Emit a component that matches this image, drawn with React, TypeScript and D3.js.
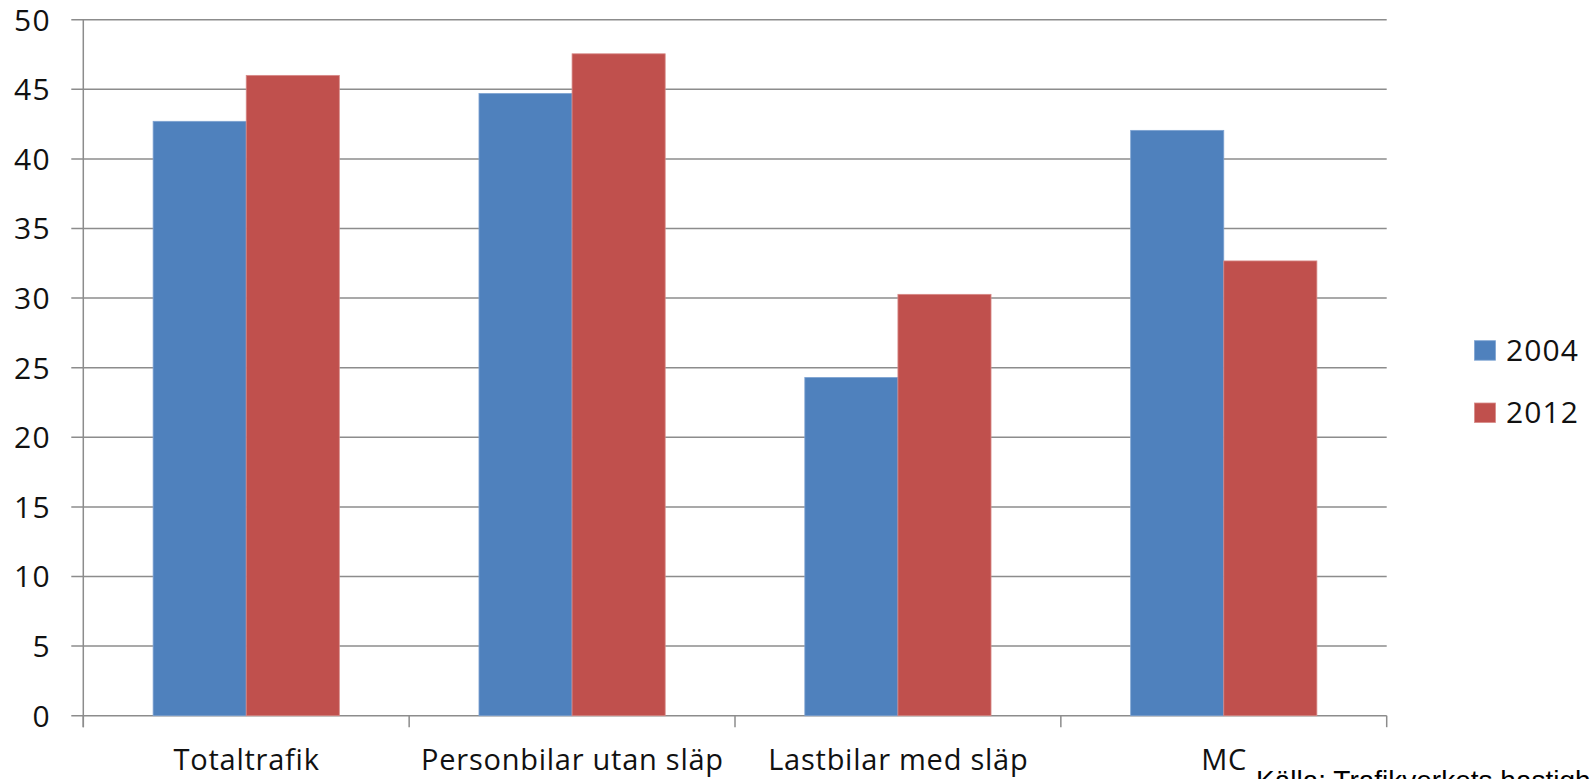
import React from "react";
import * as d3 from "d3";

const categories = ["Totaltrafik", "Personbilar utan släp", "Lastbilar med släp", "MC"];
const seriesNames = ["2004", "2012"];
const values2004 = [42.7, 44.7, 24.3, 42.05];
const values2012 = [46.0, 47.55, 30.27, 32.67];
const yTicks = [0, 5, 10, 15, 20, 25, 30, 35, 40, 45, 50];
const sourceText = "Källa: Trafikverkets hastighetsmätningar";

const colors = ["#4F81BD", "#C0504D"];
const strokes = ["#7ea3d2", "#d88a88"];

const W = 1591;
const H = 779;
const left = 83.3;
const right = 1386.7;
const top = 19.7;
const bottom = 715.7;
const FONT = "'Open Sans', sans-serif";

export default function App() {
  const x = d3.scaleBand<string>().domain(categories).range([left, right]).padding(0);
  const xs = d3
    .scaleBand<string>()
    .domain(seriesNames)
    .range([0, x.bandwidth()])
    .paddingInner(0)
    .paddingOuter(0.75);
  const y = d3.scaleLinear().domain([0, 50]).range([bottom, top]);
  const series = [values2004, values2012];
  const boundaries = [...categories.map((c) => x(c)!), right];

  return (
    <div style={{ position: "absolute", left: 0, top: 0, width: W, height: H, overflow: "hidden", background: "#fff" }}>
      <svg width={W} height={H} style={{ display: "block" }} fontFamily={FONT}>
        <rect x={0} y={0} width={W} height={H} fill="#fff" />
        {yTicks.map((t) => (
          <line key={"g" + t} x1={left - 12} x2={right} y1={y(t)} y2={y(t)} stroke="#8c8c8c" strokeWidth={1.5} />
        ))}
        <line x1={left} x2={left} y1={top} y2={bottom + 11.5} stroke="#8c8c8c" strokeWidth={1.5} />
        {boundaries.map((b, i) => (
          <line key={"xt" + i} x1={b} x2={b} y1={bottom} y2={bottom + 11.5} stroke="#8c8c8c" strokeWidth={1.5} />
        ))}
        {series.map((vals, si) =>
          categories.map((c, ci) => (
            <rect
              key={`b${si}-${ci}`}
              x={x(c)! + xs(seriesNames[si])!}
              y={y(vals[ci])}
              width={xs.bandwidth()}
              height={y(0) - y(vals[ci])}
              fill={colors[si]}
              stroke={strokes[si]}
              strokeWidth={0.8}
            />
          ))
        )}
        {yTicks.map((t) => (
          <text
            key={"yl" + t}
            x={51}
            y={y(t)}
            dy="0.36em"
            textAnchor="end"
            fontSize={30}
            letterSpacing={1.3}
            fill="#111"
          >
            {t}
          </text>
        ))}
        {categories.map((c) => (
          <text
            key={"xl" + c}
            x={x(c)! + x.bandwidth() / 2 + 0.4}
            y={770}
            textAnchor="middle"
            fontSize={29}
            letterSpacing={0.75}
            fill="#111"
          >
            {c}
          </text>
        ))}
        {seriesNames.map((s, i) => (
          <g key={"lg" + s} transform={`translate(1474.5, ${340.7 + i * 62.3})`}>
            <rect x={0} y={0} width={21} height={19.5} fill={colors[i]} stroke={strokes[i]} strokeWidth={0.8} />
            <text x={31.5} y={19.8} fontSize={30} letterSpacing={1.1} fill="#111">
              {s}
            </text>
          </g>
        ))}
        <text x={1256} y={790} fontFamily="'Liberation Sans', Arial, sans-serif" fontSize={28} fill="#000">
          {sourceText}
        </text>
      </svg>
    </div>
  );
}
